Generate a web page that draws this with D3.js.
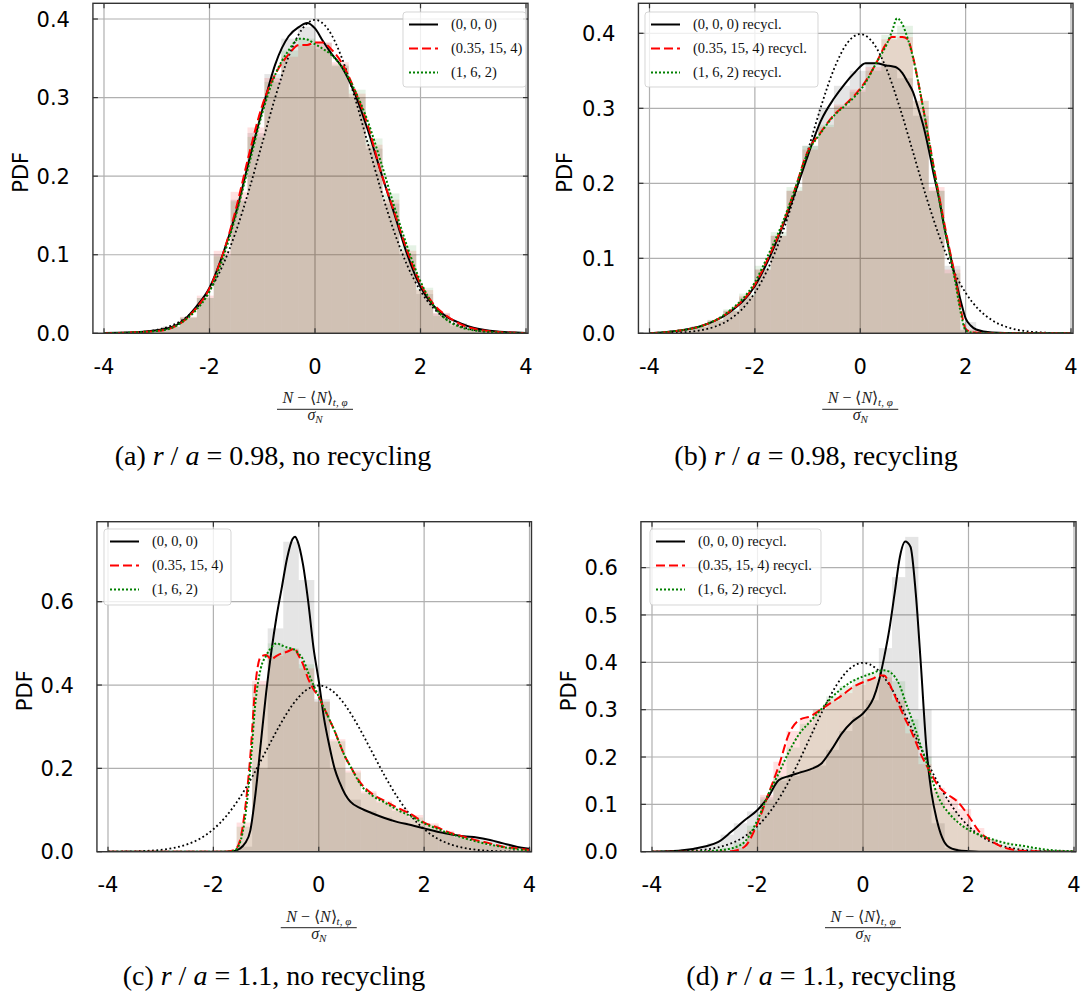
<!DOCTYPE html>
<html><head><meta charset="utf-8">
<script src="https://cdn.jsdelivr.net/npm/d3@7"></script>
<style>body{margin:0;background:#fff} svg{display:block}</style>
</head><body>
<svg id="fig" width="1081" height="1001"></svg>
<script>
// ---------------- DATA ----------------
const xTickValues = [-4, -2, 0, 2, 4];
const yTicksA = [0, 0.1, 0.2, 0.3, 0.4];
const yTicksB = [0, 0.1, 0.2, 0.3, 0.4];
const yTicksC = [0, 0.2, 0.4, 0.6];
const yTicksD = [0, 0.1, 0.2, 0.3, 0.4, 0.5, 0.6];
const seriesLabels = ["(0, 0, 0)", "(0.35, 15, 4)", "(1, 6, 2)"];
const recyclSuffix = " recycl.";
const captionA = ["(a) ", "r", " / ", "a", " = 0.98, no recycling"];
const captionB = ["(b) ", "r", " / ", "a", " = 0.98, recycling"];
const captionC = ["(c) ", "r", " / ", "a", " = 1.1, no recycling"];
const captionD = ["(d) ", "r", " / ", "a", " = 1.1, recycling"];

// reference Gaussian (black dotted)
const normX = [-4,-3.75,-3.5,-3.25,-3,-2.75,-2.5,-2.25,-2,-1.75,-1.5,-1.25,-1,-0.75,-0.5,-0.25,0,0.25,0.5,0.75,1,1.25,1.5,1.75,2,2.25,2.5,2.75,3,3.25,3.5,3.75,4];
const normY = [0.0001,0.0004,0.0009,0.002,0.0044,0.0091,0.0175,0.0317,0.054,0.0863,0.1295,0.1826,0.242,0.3011,0.3521,0.3867,0.3989,0.3867,0.3521,0.3011,0.242,0.1826,0.1295,0.0863,0.054,0.0317,0.0175,0.0091,0.0044,0.002,0.0009,0.0004,0.0001];

// panel (a)
const aX = [-4,-3.5,-3,-2.75,-2.5,-2.25,-2,-1.75,-1.5,-1.25,-1,-0.75,-0.5,-0.3,-0.15,0,0.15,0.3,0.5,0.75,1,1.25,1.5,1.75,2,2.25,2.5,2.75,3,3.5,4];
const aBlack = [0.0005,0.001,0.004,0.007,0.016,0.034,0.058,0.1,0.153,0.22,0.284,0.343,0.378,0.39,0.395,0.388,0.372,0.357,0.34,0.306,0.259,0.205,0.153,0.1,0.059,0.035,0.021,0.013,0.007,0.002,0.0005];
const aRed = [0,0.001,0.003,0.006,0.015,0.032,0.057,0.1,0.158,0.228,0.29,0.33,0.355,0.367,0.367,0.37,0.37,0.362,0.345,0.31,0.265,0.205,0.155,0.105,0.063,0.037,0.022,0.012,0.006,0.0015,0.0003];
const aGreen = [0,0.001,0.003,0.006,0.015,0.03,0.053,0.095,0.15,0.215,0.28,0.33,0.36,0.375,0.374,0.368,0.362,0.355,0.34,0.31,0.27,0.218,0.162,0.11,0.066,0.035,0.017,0.008,0.004,0.001,0];
const aHistStart = -3.2, aHistWidth = 0.32;
const aHistBlack = [0.004,0.009,0.02,0.045,0.1,0.17,0.255,0.33,0.375,0.39,0.37,0.34,0.3,0.235,0.165,0.1,0.05,0.025,0.013,0.006,0.003];
const aHistRed = [0.003,0.008,0.021,0.048,0.105,0.18,0.262,0.325,0.352,0.366,0.37,0.345,0.305,0.24,0.17,0.105,0.055,0.026,0.012,0.005,0.002];
const aHistGreen = [0.003,0.008,0.02,0.045,0.098,0.168,0.25,0.32,0.36,0.375,0.362,0.342,0.31,0.248,0.178,0.112,0.058,0.022,0.009,0.004,0.001];

// panel (b)
const bX = [-4,-3.5,-3,-2.5,-2,-1.75,-1.5,-1.25,-1,-0.75,-0.5,-0.3,-0.1,0.1,0.3,0.5,0.6,0.7,0.8,0.9,1.0,1.1,1.2,1.3,1.4,1.5,1.6,1.7,1.8,1.9,2.0,2.1,2.2,2.5,3,4];
const bBlack = [0,0.003,0.01,0.027,0.063,0.097,0.138,0.185,0.236,0.283,0.313,0.332,0.348,0.36,0.36,0.357,0.356,0.354,0.347,0.335,0.322,0.3,0.276,0.245,0.21,0.178,0.14,0.107,0.075,0.045,0.02,0.01,0.005,0.001,0,0];
const bRed = [0,0.003,0.01,0.028,0.065,0.1,0.14,0.19,0.242,0.268,0.291,0.304,0.318,0.336,0.36,0.387,0.395,0.395,0.395,0.392,0.369,0.335,0.298,0.26,0.22,0.182,0.145,0.11,0.076,0.035,0.006,0.002,0.001,0,0,0];
const bGreen = [0,0.003,0.01,0.029,0.068,0.104,0.143,0.19,0.24,0.267,0.29,0.303,0.316,0.334,0.36,0.385,0.402,0.42,0.412,0.393,0.368,0.335,0.298,0.258,0.218,0.178,0.14,0.105,0.07,0.03,0.004,0.001,0,0,0,0];
const bHistStart = -3.5, bHistWidth = 0.3;
const bHistBlack = [0.004,0.009,0.017,0.03,0.048,0.085,0.13,0.19,0.25,0.3,0.33,0.35,0.362,0.357,0.34,0.29,0.19,0.09,0.015];
const bHistRed = [0.004,0.009,0.017,0.03,0.05,0.085,0.13,0.19,0.245,0.275,0.305,0.325,0.355,0.392,0.395,0.31,0.195,0.085,0.005];
const bHistGreen = [0.004,0.009,0.018,0.032,0.053,0.09,0.135,0.195,0.25,0.278,0.303,0.322,0.35,0.398,0.41,0.31,0.19,0.08,0.004];

// panel (c)
const cX = [-4,-3,-2,-1.75,-1.6,-1.5,-1.4,-1.3,-1.2,-1.1,-1.0,-0.9,-0.8,-0.7,-0.6,-0.5,-0.45,-0.4,-0.3,-0.2,-0.1,0,0.1,0.2,0.3,0.4,0.5,0.6,0.8,1.0,1.25,1.5,1.75,2.0,2.25,2.5,2.75,3.0,3.25,3.5,3.75,4.0];
const cBlack = [0,0,0,0,0.002,0.007,0.02,0.05,0.14,0.26,0.38,0.48,0.565,0.635,0.705,0.75,0.756,0.745,0.69,0.6,0.49,0.41,0.32,0.255,0.2,0.165,0.138,0.12,0.104,0.093,0.081,0.071,0.064,0.056,0.048,0.042,0.037,0.034,0.028,0.02,0.012,0.007];
const cRed = [0,0,0,0,0.004,0.025,0.1,0.228,0.404,0.468,0.472,0.462,0.47,0.476,0.48,0.486,0.488,0.475,0.45,0.415,0.39,0.372,0.345,0.318,0.29,0.258,0.228,0.205,0.164,0.14,0.122,0.105,0.09,0.07,0.058,0.045,0.036,0.027,0.02,0.012,0.008,0.004];
const cGreen = [0,0,0,0,0.003,0.02,0.08,0.2,0.36,0.44,0.47,0.49,0.5,0.495,0.49,0.487,0.484,0.478,0.462,0.43,0.4,0.372,0.345,0.318,0.29,0.258,0.228,0.205,0.16,0.136,0.118,0.1,0.085,0.068,0.055,0.043,0.033,0.024,0.017,0.011,0.006,0.003];
const cHistStart = -1.854, cHistWidth = 0.295;
const cHistBlack = [0.0,0.012,0.2,0.536,0.744,0.652,0.366,0.2,0.125,0.098,0.082,0.07,0.062,0.052,0.043,0.036,0.032,0.024,0.016,0.008];
const cHistRed = [0.004,0.07,0.41,0.47,0.485,0.44,0.36,0.27,0.195,0.145,0.122,0.104,0.088,0.068,0.05,0.035,0.025,0.016,0.01,0.005];
const cHistGreen = [0.004,0.06,0.4,0.5,0.488,0.45,0.36,0.265,0.19,0.14,0.118,0.098,0.082,0.064,0.046,0.034,0.024,0.015,0.009,0.004];

// panel (d)
const dX = [-4,-3.5,-3,-2.75,-2.5,-2.25,-2,-1.8,-1.6,-1.4,-1.2,-1.0,-0.8,-0.6,-0.4,-0.2,0,0.1,0.2,0.3,0.4,0.5,0.6,0.7,0.8,0.9,1.0,1.1,1.2,1.3,1.4,1.5,1.6,1.8,2.0,2.2,2.4,2.6,2.8,3.0,3.25,3.5,4.0];
const dBlack = [0,0.002,0.011,0.02,0.042,0.066,0.088,0.115,0.151,0.16,0.167,0.174,0.185,0.215,0.25,0.275,0.292,0.305,0.325,0.36,0.41,0.47,0.546,0.623,0.655,0.644,0.546,0.39,0.222,0.123,0.067,0.03,0.012,0.003,0.001,0,0,0,0,0,0,0,0];
const dRed = [0,0,0,0,0.001,0.01,0.06,0.12,0.18,0.25,0.279,0.286,0.3,0.315,0.33,0.347,0.358,0.362,0.366,0.372,0.372,0.355,0.33,0.305,0.28,0.258,0.232,0.205,0.183,0.163,0.143,0.13,0.121,0.105,0.076,0.043,0.025,0.012,0.005,0.002,0.001,0,0];
const dGreen = [0,0,0.001,0.003,0.007,0.02,0.067,0.12,0.165,0.212,0.25,0.275,0.3,0.325,0.345,0.36,0.37,0.374,0.378,0.382,0.383,0.38,0.37,0.35,0.318,0.288,0.257,0.222,0.19,0.155,0.123,0.1,0.085,0.062,0.046,0.036,0.028,0.021,0.016,0.013,0.008,0.004,0.001];
const dHistStart = -3.95, dHistWidth = 0.25;
const dHistBlack = [0,0.002,0.006,0.01,0.018,0.036,0.06,0.085,0.115,0.15,0.16,0.172,0.182,0.215,0.255,0.285,0.32,0.43,0.58,0.665,0.3,0.06,0.008,0,0,0,0,0,0,0];
const dHistRed = [0,0,0,0,0,0.001,0.008,0.045,0.12,0.19,0.255,0.282,0.3,0.318,0.335,0.352,0.365,0.368,0.32,0.25,0.185,0.135,0.112,0.09,0.05,0.025,0.01,0.004,0.001,0];
const dHistGreen = [0,0,0,0.001,0.004,0.008,0.02,0.055,0.11,0.16,0.22,0.27,0.3,0.328,0.35,0.365,0.378,0.383,0.36,0.28,0.2,0.125,0.085,0.055,0.038,0.027,0.018,0.012,0.008,0.004];

// ---------------- LAYOUT / STYLE ----------------
const panels = [
  {xm4:104, xp4:526, top:3.3, bottom:333.3, ymax:0.42, yTicks:yTicksA, fmt:".1f",
   x:aX, k:aBlack, r:aRed, g:aGreen, hs:aHistStart, hw:aHistWidth, hk:aHistBlack, hr:aHistRed, hg:aHistGreen,
   leg:{x:403, y:12, w:123, h:75}, rec:false, cap:captionA, capX:273, capY:465, pdfX:20},
  {xm4:649.5, xp4:1071, top:3.3, bottom:333.3, ymax:0.44, yTicks:yTicksB, fmt:".1f",
   x:bX, k:bBlack, r:bRed, g:bGreen, hs:bHistStart, hw:bHistWidth, hk:bHistBlack, hr:bHistRed, hg:bHistGreen,
   leg:{x:645, y:12, w:173, h:75}, rec:true, cap:captionB, capX:816, capY:465, pdfX:564},
  {xm4:108, xp4:529.5, top:521.7, bottom:851.7, ymax:0.792, yTicks:yTicksC, fmt:".1f",
   x:cX, k:cBlack, r:cRed, g:cGreen, hs:cHistStart, hw:cHistWidth, hk:cHistBlack, hr:cHistRed, hg:cHistGreen,
   leg:{x:104, y:529, w:127, h:76}, rec:false, cap:captionC, capX:274, capY:985, pdfX:24},
  {xm4:652, xp4:1074, top:521.7, bottom:851.7, ymax:0.697, yTicks:yTicksD, fmt:".1f",
   x:dX, k:dBlack, r:dRed, g:dGreen, hs:dHistStart, hw:dHistWidth, hk:dHistBlack, hr:dHistRed, hg:dHistGreen,
   leg:{x:650, y:529, w:171, h:76}, rec:true, cap:captionD, capX:821, capY:985, pdfX:568}
];

const styles = [
  {stroke:"#000000", dash:null, w:2.0, hist:"#000000", hop:0.10},
  {stroke:"#ff0000", dash:"9,4", w:2.0, hist:"#ff0000", hop:0.12},
  {stroke:"#008000", dash:"2,2", w:2.0, hist:"#008000", hop:0.10}
];

const svg = d3.select("#fig");
const frameColor = "#333";
const gridColor = "#b0b0b0";

panels.forEach((p, pi) => {
  const x = d3.scaleLinear().domain([-4, 4]).range([p.xm4, p.xp4]);
  const pxPerUnit = (p.xp4 - p.xm4) / 8;
  const left = x(-4) - 0.21 * pxPerUnit;
  const right = x(4) + 2;
  const y = d3.scaleLinear().domain([0, p.ymax]).range([p.bottom, p.top]);
  const g = svg.append("g");
  const clipId = "clip" + pi;
  g.append("clipPath").attr("id", clipId).append("rect")
    .attr("x", left).attr("y", p.top).attr("width", right - left).attr("height", p.bottom - p.top);

  // grid
  const grid = g.append("g");
  xTickValues.forEach(v => grid.append("line").attr("x1", x(v)).attr("x2", x(v)).attr("y1", p.top).attr("y2", p.bottom)
      .attr("stroke", gridColor).attr("stroke-width", 1.2));
  p.yTicks.forEach(v => grid.append("line").attr("x1", left).attr("x2", right).attr("y1", y(v)).attr("y2", y(v))
      .attr("stroke", gridColor).attr("stroke-width", 1.2));

  const plot = g.append("g").attr("clip-path", `url(#${clipId})`);
  // histograms
  [[p.hk, 0], [p.hr, 1], [p.hg, 2]].forEach(([vals, si]) => {
    plot.append("g").selectAll("rect").data(vals).join("rect")
      .attr("x", (d, i) => x(p.hs + i * p.hw))
      .attr("width", (d, i) => x(p.hs + (i + 1) * p.hw) - x(p.hs + i * p.hw))
      .attr("y", d => y(d))
      .attr("height", d => p.bottom - y(d))
      .attr("fill", styles[si].hist).attr("fill-opacity", styles[si].hop);
  });

  const line = d3.line().x(d => x(d[0])).y(d => y(d[1])).curve(d3.curveMonotoneX);
  // normal reference
  plot.append("path").datum(normX.map((v, i) => [v, normY[i]])).attr("d", line)
    .attr("fill", "none").attr("stroke", "#000").attr("stroke-width", 1.8).attr("stroke-dasharray", "1.8,2.6");
  [p.k, p.r, p.g].forEach((ys, si) => {
    const st = styles[si];
    const path = plot.append("path").datum(p.x.map((v, i) => [v, ys[i]])).attr("d", line)
      .attr("fill", "none").attr("stroke", st.stroke).attr("stroke-width", st.w);
    if (st.dash) path.attr("stroke-dasharray", st.dash);
  });

  // frame
  g.append("rect").attr("x", left).attr("y", p.top).attr("width", right - left).attr("height", p.bottom - p.top)
    .attr("fill", "none").attr("stroke", frameColor).attr("stroke-width", 1.4);
  // inward ticks on all sides
  const tl = 5;
  xTickValues.forEach(v => {
    g.append("line").attr("x1", x(v)).attr("x2", x(v)).attr("y1", p.bottom).attr("y2", p.bottom - tl).attr("stroke", frameColor).attr("stroke-width", 1.2);
    g.append("line").attr("x1", x(v)).attr("x2", x(v)).attr("y1", p.top).attr("y2", p.top + tl).attr("stroke", frameColor).attr("stroke-width", 1.2);
    g.append("text").attr("x", x(v)).attr("y", p.bottom + 33).attr("dy", "0.36em").attr("text-anchor", "middle")
      .attr("font-family", "DejaVu Sans").attr("font-size", 21).attr("fill", "#000").text(String(v));
  });
  p.yTicks.forEach(v => {
    g.append("line").attr("x1", left).attr("x2", left + tl).attr("y1", y(v)).attr("y2", y(v)).attr("stroke", frameColor).attr("stroke-width", 1.2);
    g.append("line").attr("x1", right).attr("x2", right - tl).attr("y1", y(v)).attr("y2", y(v)).attr("stroke", frameColor).attr("stroke-width", 1.2);
    g.append("text").attr("x", left - 23).attr("y", y(v)).attr("dy", "0.36em").attr("text-anchor", "end")
      .attr("font-family", "DejaVu Sans").attr("font-size", 21).attr("fill", "#000").text(d3.format(p.fmt)(v));
  });

  // y label
  const cy = (p.top + p.bottom) / 2 + 4;
  g.append("text").attr("transform", `translate(${p.pdfX},${cy}) rotate(-90)`).attr("dy", "0.36em")
    .attr("text-anchor", "middle").attr("font-family", "DejaVu Sans").attr("font-size", 21).attr("fill", "#000").text("PDF");

  // x label (fraction)
  const fx = x(0);
  const num = g.append("text").attr("x", fx).attr("y", p.bottom + 70).attr("text-anchor", "middle")
    .attr("font-family", "Liberation Serif").attr("font-size", 16).attr("fill", "#222");
  num.append("tspan").attr("font-style", "italic").text("N");
  num.append("tspan").text(" − ⟨");
  num.append("tspan").attr("font-style", "italic").text("N");
  num.append("tspan").text("⟩");
  num.append("tspan").attr("font-style", "italic").attr("font-size", 11).attr("dy", 3).text("t, φ");
  g.append("line").attr("x1", fx - 38).attr("x2", fx + 38).attr("y1", p.bottom + 76).attr("y2", p.bottom + 76)
    .attr("stroke", "#222").attr("stroke-width", 1);
  const den = g.append("text").attr("x", fx).attr("y", p.bottom + 87).attr("text-anchor", "middle")
    .attr("font-family", "Liberation Serif").attr("font-size", 16).attr("fill", "#222");
  den.append("tspan").attr("font-style", "italic").text("σ");
  den.append("tspan").attr("font-style", "italic").attr("font-size", 11).attr("dy", 3).text("N");

  // legend
  const L = p.leg;
  const lg = g.append("g");
  lg.append("rect").attr("x", L.x).attr("y", L.y).attr("width", L.w).attr("height", L.h).attr("rx", 3)
    .attr("fill", "#fff").attr("fill-opacity", 0.8).attr("stroke", "#ccc").attr("stroke-opacity", 0.8).attr("stroke-width", 1);
  seriesLabels.forEach((lab, i) => {
    const ry = L.y + 12.5 + i * 24;
    const st = styles[i];
    const ln = lg.append("line").attr("x1", L.x + 6).attr("x2", L.x + 35).attr("y1", ry).attr("y2", ry)
      .attr("stroke", st.stroke).attr("stroke-width", st.w);
    if (st.dash) ln.attr("stroke-dasharray", st.dash);
    lg.append("text").attr("x", L.x + 48).attr("y", ry).attr("dy", "0.33em")
      .attr("font-family", "Liberation Serif").attr("font-size", 14.5).attr("fill", "#111")
      .text(lab + (p.rec ? recyclSuffix : ""));
  });

  // caption
  const cap = g.append("text").attr("x", p.capX).attr("y", p.capY).attr("text-anchor", "middle")
    .attr("font-family", "Liberation Serif").attr("font-size", 28).attr("fill", "#000");
  p.cap.forEach((s, i) => {
    const t = cap.append("tspan").text(s);
    if (i === 1 || i === 3) t.attr("font-style", "italic");
  });
});
</script>
</body></html>
